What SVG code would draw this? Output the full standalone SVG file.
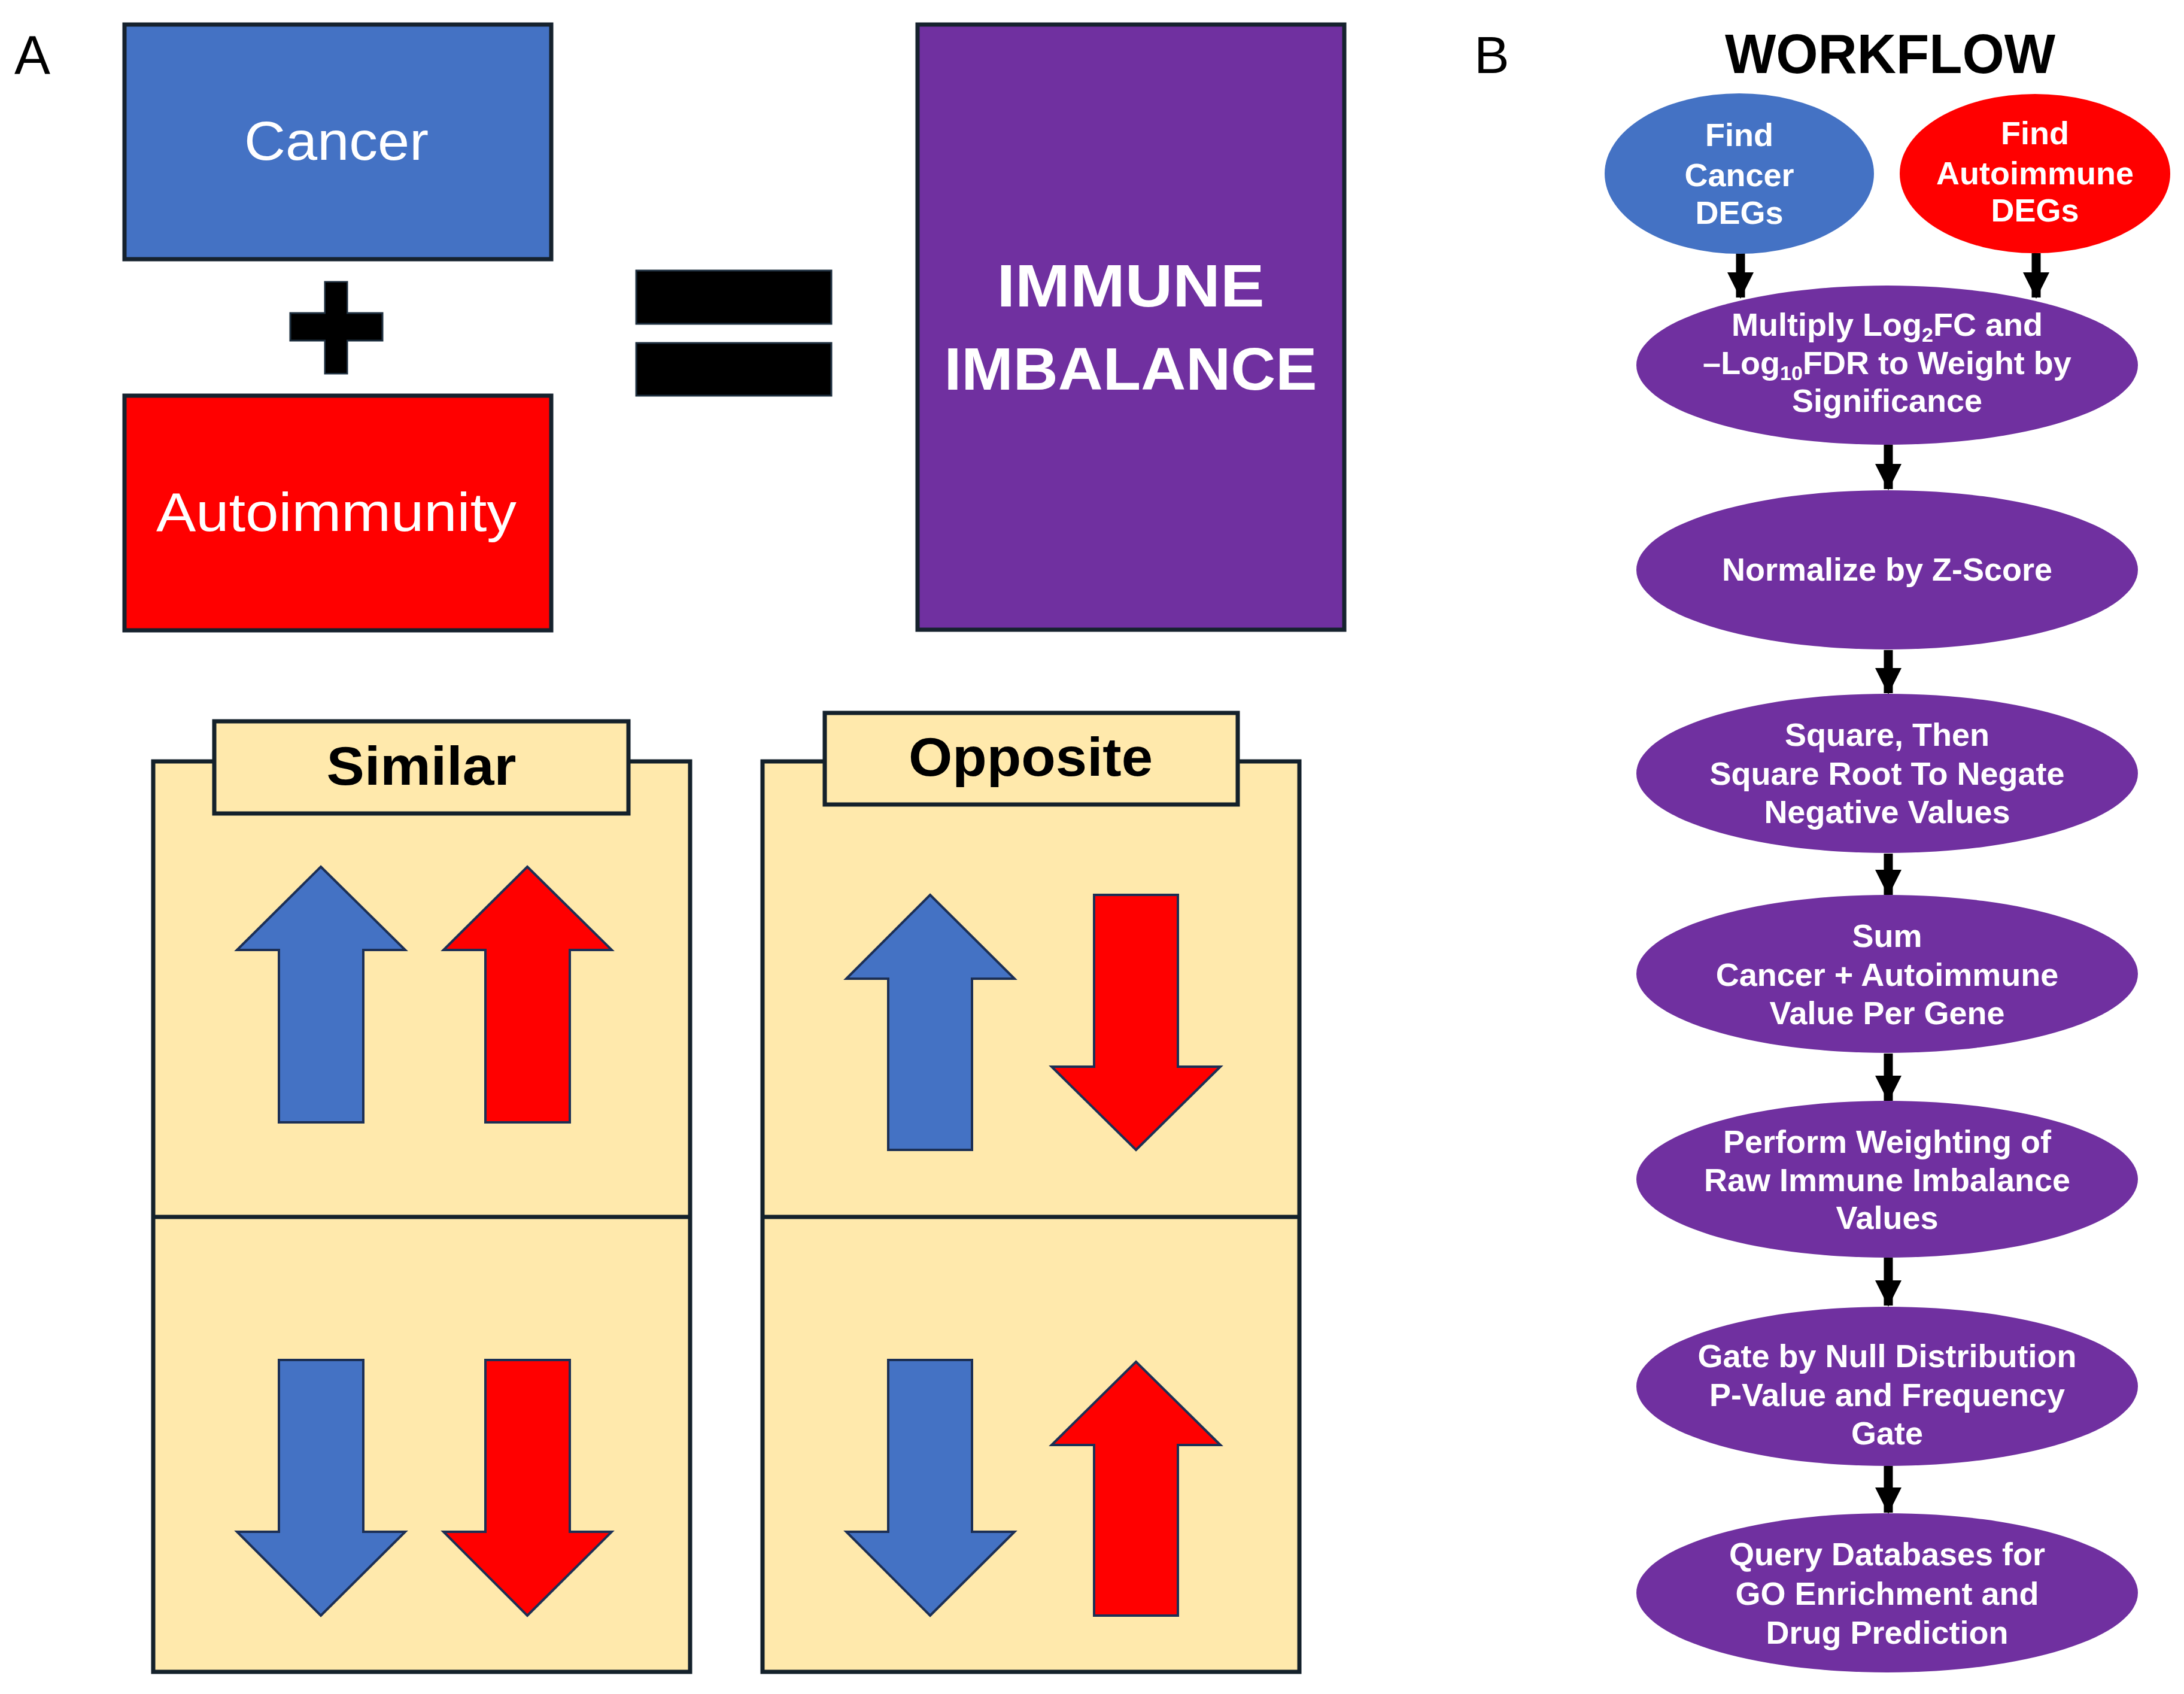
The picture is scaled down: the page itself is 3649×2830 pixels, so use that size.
<svg xmlns="http://www.w3.org/2000/svg" width="3649" height="2830" viewBox="0 0 3649 2830">
<style>
.box{stroke:#16222e;stroke-width:7}
.panel{fill:#FFE9AC;stroke:#14212b;stroke-width:7}
.arrB{fill:#4472C4;stroke:#1c2f55;stroke-width:4;stroke-linejoin:miter}
.arrR{fill:#FF0000;stroke:#1c2f55;stroke-width:4;stroke-linejoin:miter}
.sym{fill:#000;stroke:#1f3040;stroke-width:3}
.lbl{font-family:"Liberation Sans",Arial,sans-serif;fill:#000}
.wt{font-family:"Liberation Sans",Arial,sans-serif;font-weight:bold;font-size:54px;fill:#fff;text-anchor:middle}
.purple{fill:#7030A0}
.conn{stroke:#000;stroke-width:15;fill:none}
</style>
<defs>
<marker id="ah" markerUnits="userSpaceOnUse" markerWidth="46" markerHeight="44" refX="44" refY="23" orient="auto" viewBox="0 0 46 46">
<path d="M0,0 L46,23 L0,46 Z" fill="#000"/>
</marker>
</defs>
<rect width="3649" height="2830" fill="#fff"/>

<text class="lbl" x="24" y="123" font-size="90">A</text>
<text class="lbl" x="2463" y="122" font-size="88">B</text>

<g id="cancer">
<rect class="box" x="208" y="41" width="713" height="392" fill="#4472C4"/>
<text class="lbl" x="562" y="267" font-size="90" text-anchor="middle" fill="#fff" style="fill:#fff" textLength="308" lengthAdjust="spacingAndGlyphs">Cancer</text>
</g>
<g id="autoimmunity">
<rect class="box" x="208" y="661" width="713" height="392" fill="#FF0000"/>
<text class="lbl" x="562" y="887" font-size="90" text-anchor="middle" style="fill:#fff" textLength="602" lengthAdjust="spacingAndGlyphs">Autoimmunity</text>
</g>
<g id="plus">
<rect class="sym" x="543" y="471" width="37" height="153"/>
<rect class="sym" x="485" y="523" width="154" height="46"/>
<rect x="544" y="472" width="35" height="151" fill="#000"/>
</g>
<g id="equals">
<rect class="sym" x="1063" y="452" width="326" height="89"/>
<rect class="sym" x="1063" y="573" width="326" height="88"/>
</g>
<g id="immune-imbalance">
<rect class="box" x="1533" y="41" width="713" height="1011" fill="#7030A0"/>
<text class="lbl" x="1889" y="512" font-size="100" font-weight="bold" text-anchor="middle" style="fill:#fff" textLength="447" lengthAdjust="spacingAndGlyphs">IMMUNE</text>
<text class="lbl" x="1889" y="651" font-size="100" font-weight="bold" text-anchor="middle" style="fill:#fff" textLength="623" lengthAdjust="spacingAndGlyphs">IMBALANCE</text>
</g>

<g id="similar">
<rect class="panel" x="256" y="1272" width="897" height="1521"/>
<line x1="256" y1="2033" x2="1153" y2="2033" stroke="#14212b" stroke-width="7"/>
<rect class="panel" x="358" y="1205" width="692" height="154"/>
<text class="lbl" x="704" y="1311" font-size="90" font-weight="bold" text-anchor="middle" textLength="317" lengthAdjust="spacingAndGlyphs">Similar</text>
<polygon class="arrB" points="536,1448 677,1587 607,1587 607,1875 466,1875 466,1587 396,1587"/>
<polygon class="arrR" points="881,1448 1022,1587 952,1587 952,1875 811,1875 811,1587 741,1587"/>
<polygon class="arrB" points="536,2699 677,2559 607,2559 607,2272 466,2272 466,2559 396,2559"/>
<polygon class="arrR" points="881,2699 1022,2559 952,2559 952,2272 811,2272 811,2559 741,2559"/>
</g>
<g id="opposite">
<rect class="panel" x="1274" y="1272" width="897" height="1521"/>
<line x1="1274" y1="2033" x2="2171" y2="2033" stroke="#14212b" stroke-width="7"/>
<rect class="panel" x="1378" y="1191" width="690" height="153"/>
<text class="lbl" x="1722" y="1296" font-size="90" font-weight="bold" text-anchor="middle" textLength="408" lengthAdjust="spacingAndGlyphs">Opposite</text>
<polygon class="arrB" points="1554,1495 1695,1635 1624,1635 1624,1921 1484,1921 1484,1635 1414,1635"/>
<polygon class="arrR" points="1898,1921 2039,1782 1968,1782 1968,1495 1828,1495 1828,1782 1757,1782"/>
<polygon class="arrB" points="1554,2699 1695,2559 1624,2559 1624,2272 1484,2272 1484,2559 1414,2559"/>
<polygon class="arrR" points="1898,2275 2039,2414 1968,2414 1968,2699 1828,2699 1828,2414 1757,2414"/>
</g>

<text class="lbl" x="3158" y="122" font-size="92" font-weight="bold" text-anchor="middle" textLength="552" lengthAdjust="spacingAndGlyphs">WORKFLOW</text>

<g id="connectors">
<line class="conn" x1="2908" y1="423" x2="2908" y2="497" marker-end="url(#ah)"/>
<line class="conn" x1="3402" y1="423" x2="3402" y2="497" marker-end="url(#ah)"/>
<line class="conn" x1="3155" y1="743" x2="3155" y2="817" marker-end="url(#ah)"/>
<line class="conn" x1="3155" y1="1086" x2="3155" y2="1158" marker-end="url(#ah)"/>
<line class="conn" x1="3155" y1="1426" x2="3155" y2="1495" marker-end="url(#ah)"/>
<line class="conn" x1="3155" y1="1760" x2="3155" y2="1839" marker-end="url(#ah)"/>
<line class="conn" x1="3155" y1="2101" x2="3155" y2="2181" marker-end="url(#ah)"/>
<line class="conn" x1="3155" y1="2449" x2="3155" y2="2527" marker-end="url(#ah)"/>
</g>

<g id="find-cancer">
<ellipse cx="2906" cy="290" rx="225" ry="134" fill="#4472C4"/>
<text class="wt" x="2906" y="244">Find</text>
<text class="wt" x="2906" y="311">Cancer</text>
<text class="wt" x="2906" y="374">DEGs</text>
</g>
<g id="find-autoimmune">
<ellipse cx="3400" cy="290" rx="226" ry="133" fill="#FF0000"/>
<text class="wt" x="3400" y="241">Find</text>
<text class="wt" x="3400" y="308">Autoimmune</text>
<text class="wt" x="3400" y="370">DEGs</text>
</g>
<g id="multiply">
<ellipse class="purple" cx="3153" cy="610" rx="419" ry="133"/>
<text class="wt" x="3153" y="561">Multiply Log<tspan font-size="34" dy="10">2</tspan><tspan dy="-10">FC and</tspan></text>
<text class="wt" x="3153" y="625">–Log<tspan font-size="34" dy="10">10</tspan><tspan dy="-10">FDR to Weight by</tspan></text>
<text class="wt" x="3153" y="688">Significance</text>
</g>
<g id="normalize">
<ellipse class="purple" cx="3153" cy="952" rx="419" ry="133"/>
<text class="wt" x="3153" y="970">Normalize by Z-Score</text>
</g>
<g id="square">
<ellipse class="purple" cx="3153" cy="1292" rx="419" ry="133"/>
<text class="wt" x="3153" y="1246">Square, Then</text>
<text class="wt" x="3153" y="1311">Square Root To Negate</text>
<text class="wt" x="3153" y="1375">Negative Values</text>
</g>
<g id="sum">
<ellipse class="purple" cx="3153" cy="1627" rx="419" ry="132"/>
<text class="wt" x="3153" y="1582">Sum</text>
<text class="wt" x="3153" y="1647">Cancer + Autoimmune</text>
<text class="wt" x="3153" y="1711">Value Per Gene</text>
</g>
<g id="perform">
<ellipse class="purple" cx="3153" cy="1970" rx="419" ry="131"/>
<text class="wt" x="3153" y="1926">Perform Weighting of</text>
<text class="wt" x="3153" y="1990">Raw Immune Imbalance</text>
<text class="wt" x="3153" y="2053">Values</text>
</g>
<g id="gate">
<ellipse class="purple" cx="3153" cy="2316" rx="419" ry="133"/>
<text class="wt" x="3153" y="2284">Gate by Null Distribution</text>
<text class="wt" x="3153" y="2349">P-Value and Frequency</text>
<text class="wt" x="3153" y="2413">Gate</text>
</g>
<g id="query">
<ellipse class="purple" cx="3153" cy="2661" rx="419" ry="133"/>
<text class="wt" x="3153" y="2615">Query Databases for</text>
<text class="wt" x="3153" y="2681">GO Enrichment and</text>
<text class="wt" x="3153" y="2746">Drug Prediction</text>
</g>
</svg>
